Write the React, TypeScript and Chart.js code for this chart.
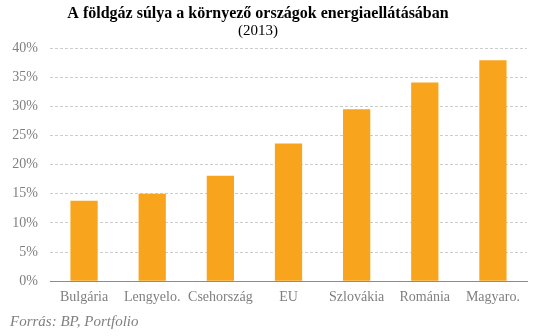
import React, { useEffect, useRef } from "react";
import { Chart, registerables } from "chart.js";

Chart.register(...registerables);

const categories = ["Bulgária", "Lengyelo.", "Csehország", "EU", "Szlovákia", "Románia", "Magyaro."];
const shares = [13.8, 15.0, 18.1, 23.6, 29.5, 34.1, 37.9];
const yTicks = [0, 5, 10, 15, 20, 25, 30, 35, 40];
const titleText = "A földgáz súlya a környező országok energiaellátásában";
const subtitleText = "(2013)";
const sourceText = "Forrás: BP, Portfolio";

const SERIF = "'Liberation Serif', 'DejaVu Serif', serif";

const textPlugin = {
  id: "headerFooterText",
  afterDraw(chart: any) {
    const ctx = chart.ctx;
    ctx.save();
    ctx.textBaseline = "middle";
    ctx.textAlign = "center";
    ctx.fillStyle = "#000";
    ctx.font = `bold 16px ${SERIF}`;
    ctx.fillText(titleText, 258, 14);
    ctx.font = `15px ${SERIF}`;
    ctx.fillText(subtitleText, 258, 31);
    ctx.font = `italic 15px ${SERIF}`;
    ctx.fillStyle = "#7f7f7f";
    ctx.textAlign = "left";
    ctx.fillText(sourceText, 10, 322);
    ctx.restore();
  },
};

export default function App() {
  const ref = useRef<HTMLCanvasElement | null>(null);
  useEffect(() => {
    document.body.style.margin = "0";
    const chart = new Chart(ref.current!, {
      type: "bar",
      data: {
        labels: categories,
        datasets: [
          {
            data: shares,
            backgroundColor: "#F8A51D",
            borderWidth: 0,
            categoryPercentage: 1,
            barPercentage: 0.4,
          },
        ],
      },
      plugins: [textPlugin],
      options: {
        responsive: false,
        animation: false,
        maintainAspectRatio: false,
        layout: { padding: { left: 0, right: 12, top: 48, bottom: 22 } },
        plugins: {
          legend: { display: false },
          tooltip: { enabled: false },
          title: { display: false },
          subtitle: { display: false },
        },
        scales: {
          x: {
            grid: { display: false, drawTicks: false },
            border: { display: true, color: "#8c8c8c", width: 1 },
            ticks: {
              color: "#7f7f7f",
              font: { family: SERIF, size: 14 },
              padding: 8,
              maxRotation: 0,
              autoSkip: false,
            },
          },
          y: {
            min: 0,
            max: 40,
            afterFit(axis: any) {
              axis.width = 50;
            },
            afterBuildTicks(axis: any) {
              axis.ticks = yTicks.map((v) => ({ value: v }));
            },
            grid: {
              color: (c: any) => (c.tick && c.tick.value === 0 ? "rgba(0,0,0,0)" : "#cccccc"),
              drawTicks: false,
            },
            border: { display: false, dash: [3, 2] },
            ticks: {
              color: "#7f7f7f",
              font: { family: SERIF, size: 14 },
              padding: 12,
              callback: (v: any) => `${v}%`,
            },
          },
        },
      },
    } as any);
    return () => chart.destroy();
  }, []);
  return (
    <div style={{ width: 539, height: 336 }}>
      <canvas ref={ref} width={539} height={336} style={{ display: "block" }} />
    </div>
  );
}
